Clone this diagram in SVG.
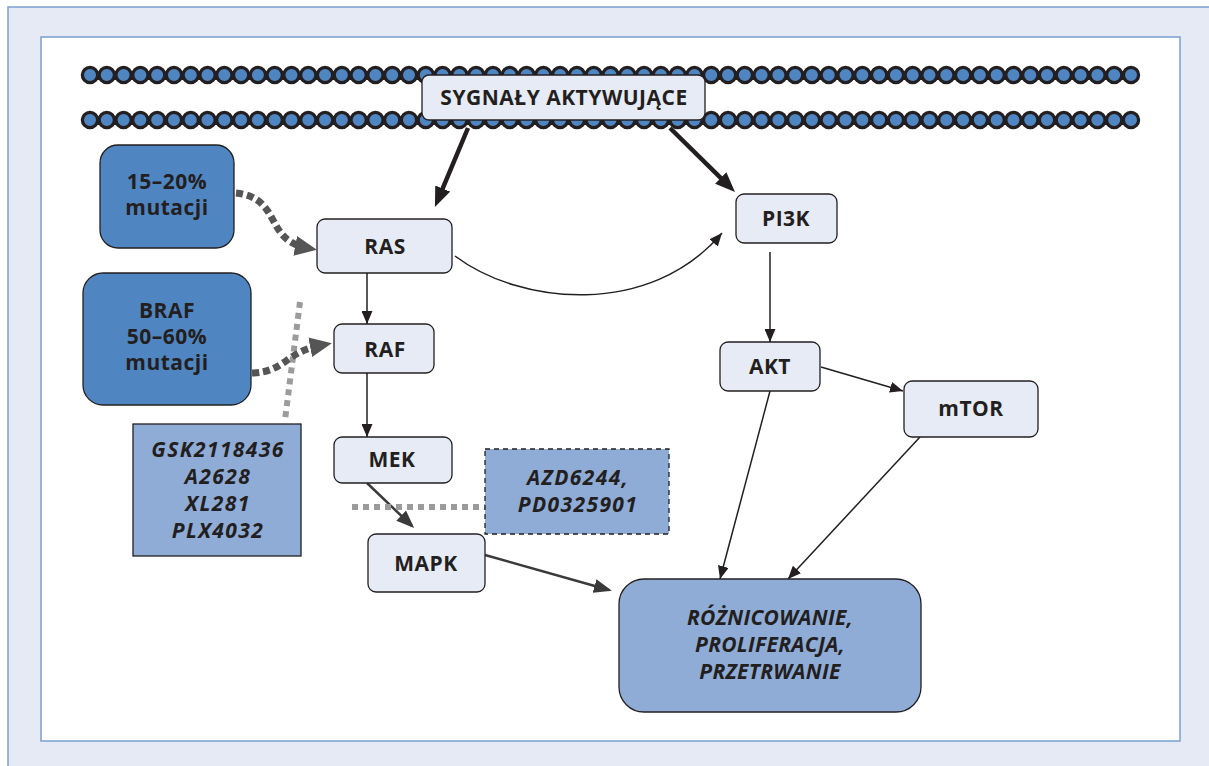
<svg xmlns="http://www.w3.org/2000/svg" width="1209" height="766" viewBox="0 0 1209 766">
<style>
.t{font-family:"Open Sans","Liberation Sans",sans-serif;font-weight:700;font-size:21px;fill:#231F20;text-anchor:middle;letter-spacing:0.5px}
.i{font-style:italic;letter-spacing:0.3px}
.dg{letter-spacing:1.4px}
.node{fill:#E6EBF5;stroke:#231F20;stroke-width:1.3}
.dark{fill:#4F86C2;stroke:#231F20;stroke-width:1.3}
.light{fill:#8FACD7;stroke:#231F20;stroke-width:1.3}
.thin{fill:none;stroke:#231F20;stroke-width:1.5}
.mid{fill:none;stroke:#3A3A3A;stroke-width:2.5}
.thick{fill:none;stroke:#231F20;stroke-width:4.5}
.gdash{fill:none;stroke:#555;stroke-width:7;stroke-dasharray:7 4}
.gdot{fill:none;stroke:#9B9B9B;stroke-width:6;stroke-dasharray:6 5}
</style>
<defs>
<marker id="aThin" viewBox="0 0 13 11" refX="13" refY="5.5" markerWidth="13" markerHeight="11" markerUnits="userSpaceOnUse" orient="auto"><path d="M0,0 L13,5.5 L0,11 z" fill="#231F20"/></marker>
<marker id="aMid" viewBox="0 0 18 14" refX="15" refY="7" markerWidth="18" markerHeight="14" markerUnits="userSpaceOnUse" orient="auto"><path d="M0,0 L18,7 L0,14 z" fill="#3A3A3A"/></marker>
<marker id="aThick" viewBox="0 0 20 16" refX="12" refY="8" markerWidth="20" markerHeight="16" markerUnits="userSpaceOnUse" orient="auto"><path d="M0,0 L20,8 L0,16 z" fill="#231F20"/></marker>
<marker id="aGray" viewBox="0 0 22 20" refX="12" refY="10" markerWidth="22" markerHeight="20" markerUnits="userSpaceOnUse" orient="auto"><path d="M0,0 L22,10 L0,20 z" fill="#555"/></marker>
</defs>
<rect x="8" y="7" width="1215" height="775" fill="#E5EAF4" stroke="#7A9FD0" stroke-width="1.5"/>
<rect x="41" y="37" width="1139" height="704" fill="#FFFFFF" stroke="#7A9FD0" stroke-width="1.5"/>
<g id="membrane">
<path d="M90,75 H1132 M90,120 H1132" stroke="#231F20" stroke-width="18.5" stroke-linecap="round" stroke-dasharray="0 16.79" fill="none"/>
<path d="M90,75 H1132 M90,120 H1132" stroke="#4F86C2" stroke-width="12" stroke-linecap="round" stroke-dasharray="0 16.79" fill="none"/>
</g>
<g id="connectors">
<path class="thick" d="M468,128 L438,199.6" marker-end="url(#aThick)"/>
<path class="thick" d="M670,128 L729.3,186.4" marker-end="url(#aThick)"/>
<path class="thin" d="M455,256 C520,305 650,318 722,233" marker-end="url(#aThin)"/>
<path class="thin" d="M367,273 V324" marker-end="url(#aThin)"/>
<path class="thin" d="M367,373 V437" marker-end="url(#aThin)"/>
<path class="mid" d="M367,483 L412,526" marker-end="url(#aMid)"/>
<path class="mid" d="M485,555 L609,590" marker-end="url(#aMid)"/>
<path class="thin" d="M770,252 V342" marker-end="url(#aThin)"/>
<path class="thin" d="M821,367 L903,391" marker-end="url(#aThin)"/>
<path class="thin" d="M770,391 L720,579" marker-end="url(#aThin)"/>
<path class="thin" d="M920,437 L788,579" marker-end="url(#aThin)"/>
<path class="gdot" d="M300,302 L285,420"/>
<path class="gdot" d="M352,507 H485"/>
<path class="gdash" d="M236,193 C282,198 264,240 307,248" marker-end="url(#aGray)"/>
<path class="gdash" d="M252,373 C285,372 285,352 322,345" marker-end="url(#aGray)"/>
</g>
<g id="signal"><rect class="node" x="422" y="75" width="283" height="45" rx="7"/><text class="t" x="564" y="105">SYGNAŁY AKTYWUJĄCE</text></g>
<g id="mut1"><rect class="dark" x="100" y="145" width="134" height="103" rx="18"/><text class="t" x="167" y="189">15–20%</text><text class="t" x="167" y="215">mutacji</text></g>
<g id="braf"><rect class="dark" x="83" y="273" width="168" height="132" rx="20"/><text class="t" x="167" y="318">BRAF</text><text class="t" x="167" y="344">50–60%</text><text class="t" x="167" y="370">mutacji</text></g>
<g id="ras"><rect class="node" x="317" y="219" width="135" height="54" rx="8"/><text class="t" x="385" y="254">RAS</text></g>
<g id="raf"><rect class="node" x="334" y="324" width="100" height="49" rx="8"/><text class="t" x="385" y="357">RAF</text></g>
<g id="mek"><rect class="node" x="334" y="437" width="118" height="46" rx="8"/><text class="t" x="392" y="467">MEK</text></g>
<g id="mapk"><rect class="node" x="368" y="534" width="117" height="58" rx="8"/><text class="t" x="426" y="571">MAPK</text></g>
<g id="gsk"><rect class="light" x="133" y="424" width="168" height="132"/><text class="t i dg" x="218" y="457">GSK2118436</text><text class="t i dg" x="218" y="484">A2628</text><text class="t i dg" x="218" y="511">XL281</text><text class="t i dg" x="218" y="538">PLX4032</text></g>
<g id="azd"><rect class="light" x="485" y="449" width="184" height="85" stroke-dasharray="5 4"/><text class="t i dg" x="578" y="485">AZD6244,</text><text class="t i dg" x="578" y="512">PD0325901</text></g>
<g id="pi3k"><rect class="node" x="736" y="194" width="101" height="49" rx="8"/><text class="t" x="786" y="226">PI3K</text></g>
<g id="akt"><rect class="node" x="720" y="342" width="100" height="49" rx="8"/><text class="t" x="770" y="374">AKT</text></g>
<g id="mtor"><rect class="node" x="904" y="381" width="134" height="56" rx="8"/><text class="t" x="971" y="416">mTOR</text></g>
<g id="result"><rect class="light" x="619" y="579" width="302" height="133" rx="25"/><text class="t i" x="770" y="625">RÓŻNICOWANIE,</text><text class="t i" x="770" y="652">PROLIFERACJA,</text><text class="t i" x="770" y="679">PRZETRWANIE</text></g>
</svg>
